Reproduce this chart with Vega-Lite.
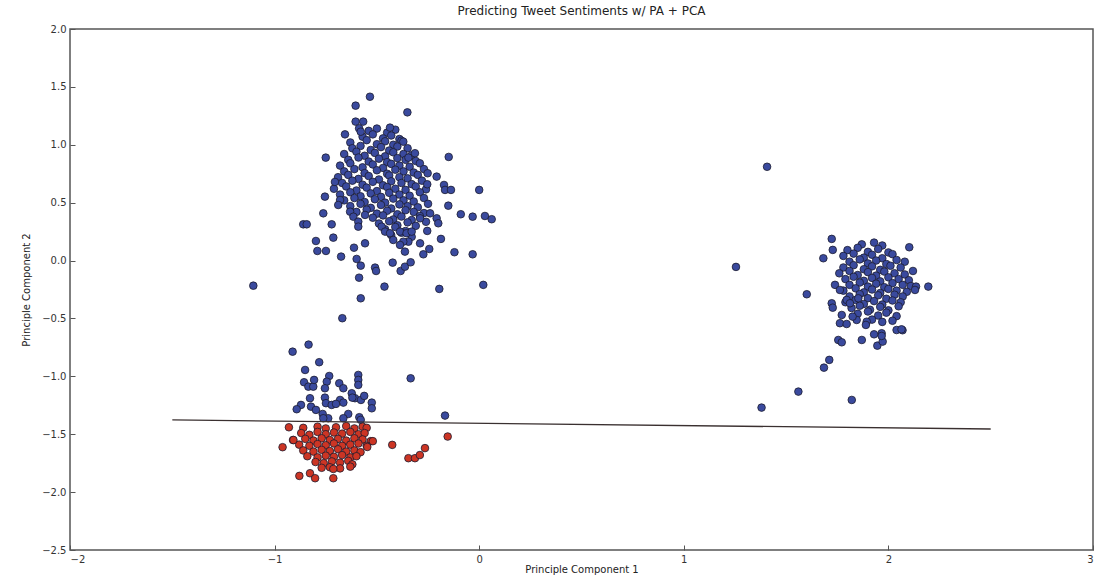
{
  "$schema": "https://vega.github.io/schema/vega-lite/v6.json",
  "width": 1023,
  "height": 521,
  "autosize": "none",
  "padding": {"left": 70, "top": 29, "right": 11, "bottom": 25},
  "background": "white",
  "title": {"text": "Predicting Tweet Sentiments w/ PA + PCA", "fontSize": 12, "fontWeight": "normal", "font": "DejaVu Sans", "color": "#222", "offset": 6},
  "config": {
    "view": {"stroke": "#555", "strokeWidth": 1.5},
    "axis": {"grid": false, "domain": false, "labelFont": "DejaVu Sans", "labelFontSize": 10, "labelColor": "#333", "tickColor": "#555", "tickSize": -5, "titleFont": "DejaVu Sans", "titleFontSize": 10, "titleFontWeight": "normal", "titleColor": "#222"}
  },
  "datasets": {
    "pts": [
      {"x":-0.54,"y":1.12,"c":"pos"},{"x":-0.50,"y":1.14,"c":"pos"},{"x":-0.45,"y":1.105,"c":"pos"},{"x":-0.41,"y":1.13,"c":"pos"},
      {"x":-0.57,"y":1.07,"c":"pos"},{"x":-0.52,"y":1.09,"c":"pos"},{"x":-0.47,"y":1.055,"c":"pos"},{"x":-0.43,"y":1.08,"c":"pos"},{"x":-0.39,"y":1.05,"c":"pos"},
      {"x":-0.63,"y":1.02,"c":"pos"},{"x":-0.55,"y":1.04,"c":"pos"},{"x":-0.50,"y":1.005,"c":"pos"},{"x":-0.46,"y":1.03,"c":"pos"},{"x":-0.42,"y":1.0,"c":"pos"},{"x":-0.38,"y":1.035,"c":"pos"},
      {"x":-0.62,"y":0.97,"c":"pos"},{"x":-0.58,"y":0.99,"c":"pos"},{"x":-0.53,"y":0.955,"c":"pos"},{"x":-0.48,"y":0.98,"c":"pos"},{"x":-0.44,"y":0.95,"c":"pos"},{"x":-0.40,"y":0.985,"c":"pos"},{"x":-0.35,"y":0.97,"c":"pos"},
      {"x":-0.66,"y":0.92,"c":"pos"},{"x":-0.60,"y":0.94,"c":"pos"},{"x":-0.56,"y":0.905,"c":"pos"},{"x":-0.51,"y":0.93,"c":"pos"},{"x":-0.46,"y":0.90,"c":"pos"},{"x":-0.42,"y":0.935,"c":"pos"},{"x":-0.37,"y":0.92,"c":"pos"},{"x":-0.33,"y":0.91,"c":"pos"},
      {"x":-0.64,"y":0.87,"c":"pos"},{"x":-0.59,"y":0.89,"c":"pos"},{"x":-0.54,"y":0.855,"c":"pos"},{"x":-0.49,"y":0.88,"c":"pos"},{"x":-0.45,"y":0.85,"c":"pos"},{"x":-0.40,"y":0.885,"c":"pos"},{"x":-0.36,"y":0.87,"c":"pos"},{"x":-0.31,"y":0.86,"c":"pos"},
      {"x":-0.68,"y":0.82,"c":"pos"},{"x":-0.63,"y":0.84,"c":"pos"},{"x":-0.57,"y":0.805,"c":"pos"},{"x":-0.52,"y":0.83,"c":"pos"},{"x":-0.47,"y":0.80,"c":"pos"},{"x":-0.43,"y":0.835,"c":"pos"},{"x":-0.39,"y":0.82,"c":"pos"},{"x":-0.34,"y":0.81,"c":"pos"},{"x":-0.29,"y":0.84,"c":"pos"},
      {"x":-0.66,"y":0.77,"c":"pos"},{"x":-0.61,"y":0.79,"c":"pos"},{"x":-0.56,"y":0.755,"c":"pos"},{"x":-0.50,"y":0.78,"c":"pos"},{"x":-0.45,"y":0.75,"c":"pos"},{"x":-0.41,"y":0.785,"c":"pos"},{"x":-0.37,"y":0.77,"c":"pos"},{"x":-0.32,"y":0.76,"c":"pos"},{"x":-0.27,"y":0.79,"c":"pos"},
      {"x":-0.69,"y":0.72,"c":"pos"},{"x":-0.64,"y":0.74,"c":"pos"},{"x":-0.59,"y":0.705,"c":"pos"},{"x":-0.54,"y":0.73,"c":"pos"},{"x":-0.49,"y":0.70,"c":"pos"},{"x":-0.44,"y":0.735,"c":"pos"},{"x":-0.39,"y":0.72,"c":"pos"},{"x":-0.35,"y":0.71,"c":"pos"},{"x":-0.30,"y":0.74,"c":"pos"},
      {"x":-0.67,"y":0.67,"c":"pos"},{"x":-0.62,"y":0.69,"c":"pos"},{"x":-0.57,"y":0.655,"c":"pos"},{"x":-0.52,"y":0.68,"c":"pos"},{"x":-0.47,"y":0.65,"c":"pos"},{"x":-0.43,"y":0.685,"c":"pos"},{"x":-0.38,"y":0.67,"c":"pos"},{"x":-0.33,"y":0.66,"c":"pos"},{"x":-0.28,"y":0.69,"c":"pos"},
      {"x":-0.71,"y":0.62,"c":"pos"},{"x":-0.65,"y":0.64,"c":"pos"},{"x":-0.60,"y":0.605,"c":"pos"},{"x":-0.55,"y":0.63,"c":"pos"},{"x":-0.50,"y":0.60,"c":"pos"},{"x":-0.45,"y":0.635,"c":"pos"},{"x":-0.41,"y":0.62,"c":"pos"},{"x":-0.36,"y":0.61,"c":"pos"},{"x":-0.31,"y":0.64,"c":"pos"},{"x":-0.26,"y":0.615,"c":"pos"},
      {"x":-0.68,"y":0.57,"c":"pos"},{"x":-0.63,"y":0.59,"c":"pos"},{"x":-0.58,"y":0.555,"c":"pos"},{"x":-0.53,"y":0.58,"c":"pos"},{"x":-0.48,"y":0.55,"c":"pos"},{"x":-0.44,"y":0.585,"c":"pos"},{"x":-0.39,"y":0.57,"c":"pos"},{"x":-0.34,"y":0.56,"c":"pos"},{"x":-0.29,"y":0.59,"c":"pos"},
      {"x":-0.66,"y":0.52,"c":"pos"},{"x":-0.61,"y":0.54,"c":"pos"},{"x":-0.56,"y":0.505,"c":"pos"},{"x":-0.51,"y":0.53,"c":"pos"},{"x":-0.46,"y":0.50,"c":"pos"},{"x":-0.42,"y":0.535,"c":"pos"},{"x":-0.37,"y":0.52,"c":"pos"},{"x":-0.32,"y":0.51,"c":"pos"},{"x":-0.27,"y":0.54,"c":"pos"},
      {"x":-0.63,"y":0.47,"c":"pos"},{"x":-0.58,"y":0.49,"c":"pos"},{"x":-0.53,"y":0.455,"c":"pos"},{"x":-0.48,"y":0.48,"c":"pos"},{"x":-0.43,"y":0.45,"c":"pos"},{"x":-0.39,"y":0.485,"c":"pos"},{"x":-0.35,"y":0.47,"c":"pos"},{"x":-0.30,"y":0.46,"c":"pos"},{"x":-0.25,"y":0.49,"c":"pos"},
      {"x":-0.60,"y":0.42,"c":"pos"},{"x":-0.55,"y":0.44,"c":"pos"},{"x":-0.50,"y":0.405,"c":"pos"},{"x":-0.45,"y":0.43,"c":"pos"},{"x":-0.40,"y":0.40,"c":"pos"},{"x":-0.36,"y":0.435,"c":"pos"},{"x":-0.32,"y":0.42,"c":"pos"},{"x":-0.27,"y":0.41,"c":"pos"},
      {"x":-0.52,"y":0.37,"c":"pos"},{"x":-0.47,"y":0.39,"c":"pos"},{"x":-0.42,"y":0.355,"c":"pos"},{"x":-0.38,"y":0.38,"c":"pos"},{"x":-0.33,"y":0.35,"c":"pos"},{"x":-0.29,"y":0.385,"c":"pos"},
      {"x":-0.49,"y":0.32,"c":"pos"},{"x":-0.44,"y":0.34,"c":"pos"},{"x":-0.40,"y":0.305,"c":"pos"},{"x":-0.35,"y":0.33,"c":"pos"},{"x":-0.31,"y":0.30,"c":"pos"},{"x":-0.26,"y":0.335,"c":"pos"},
      {"x":-0.46,"y":0.27,"c":"pos"},{"x":-0.41,"y":0.29,"c":"pos"},{"x":-0.36,"y":0.255,"c":"pos"},
      {"x":-0.43,"y":0.22,"c":"pos"},{"x":-0.38,"y":0.24,"c":"pos"},{"x":-0.33,"y":0.205,"c":"pos"},
      {"x":-0.534,"y":1.415,"c":"pos"},{"x":-0.604,"y":1.338,"c":"pos"},{"x":-0.351,"y":1.28,"c":"pos"},{"x":-0.604,"y":1.2,"c":"pos"},{"x":-0.567,"y":1.2,"c":"pos"},
      {"x":-0.587,"y":1.142,"c":"pos"},{"x":-0.579,"y":1.113,"c":"pos"},{"x":-0.656,"y":1.09,"c":"pos"},{"x":-0.436,"y":1.148,"c":"pos"},{"x":-0.75,"y":0.889,"c":"pos"},
      {"x":-0.149,"y":0.895,"c":"pos"},{"x":0.0,"y":0.61,"c":"pos"},{"x":-0.705,"y":0.679,"c":"pos"},{"x":-0.754,"y":0.552,"c":"pos"},{"x":-0.68,"y":0.523,"c":"pos"},
      {"x":-0.689,"y":0.48,"c":"pos"},{"x":-0.762,"y":0.408,"c":"pos"},{"x":-0.86,"y":0.313,"c":"pos"},{"x":-0.843,"y":0.313,"c":"pos"},{"x":-0.721,"y":0.313,"c":"pos"},
      {"x":-0.09,"y":0.4,"c":"pos"},{"x":-0.032,"y":0.379,"c":"pos"},{"x":0.028,"y":0.385,"c":"pos"},{"x":0.061,"y":0.357,"c":"pos"},{"x":-0.151,"y":0.474,"c":"pos"},
      {"x":-0.713,"y":0.198,"c":"pos"},{"x":-0.798,"y":0.169,"c":"pos"},{"x":-0.791,"y":0.083,"c":"pos"},{"x":-0.749,"y":0.083,"c":"pos"},{"x":-0.675,"y":0.034,"c":"pos"},
      {"x":-0.612,"y":0.111,"c":"pos"},{"x":-0.558,"y":0.149,"c":"pos"},{"x":-0.599,"y":0.014,"c":"pos"},{"x":-0.579,"y":-0.044,"c":"pos"},{"x":-0.509,"y":-0.061,"c":"pos"},
      {"x":-0.504,"y":-0.09,"c":"pos"},{"x":-0.587,"y":-0.148,"c":"pos"},{"x":-0.463,"y":-0.225,"c":"pos"},{"x":-0.579,"y":-0.326,"c":"pos"},{"x":-0.669,"y":-0.498,"c":"pos"},
      {"x":-0.195,"y":-0.245,"c":"pos"},{"x":0.02,"y":-0.21,"c":"pos"},{"x":-0.121,"y":0.072,"c":"pos"},{"x":-0.032,"y":0.054,"c":"pos"},{"x":-0.187,"y":0.187,"c":"pos"},
      {"x":-0.244,"y":0.1,"c":"pos"},{"x":-0.273,"y":0.054,"c":"pos"},{"x":-0.363,"y":0.077,"c":"pos"},{"x":-0.423,"y":-0.018,"c":"pos"},{"x":-0.384,"y":-0.09,"c":"pos"},
      {"x":-0.363,"y":-0.053,"c":"pos"},{"x":-0.335,"y":-0.015,"c":"pos"},{"x":-0.254,"y":0.256,"c":"pos"},{"x":-0.289,"y":0.149,"c":"pos"},{"x":-0.208,"y":0.365,"c":"pos"},
      {"x":-0.2,"y":0.322,"c":"pos"},{"x":-0.254,"y":0.659,"c":"pos"},{"x":-0.208,"y":0.725,"c":"pos"},{"x":-0.172,"y":0.653,"c":"pos"},{"x":-0.167,"y":0.61,"c":"pos"},
      {"x":-0.138,"y":0.61,"c":"pos"},{"x":-0.252,"y":0.754,"c":"pos"},{"x":-0.371,"y":1.027,"c":"pos"},{"x":-0.314,"y":0.927,"c":"pos"},{"x":-0.346,"y":0.889,"c":"pos"},
      {"x":-0.631,"y":0.422,"c":"pos"},{"x":-0.615,"y":0.379,"c":"pos"},{"x":-0.591,"y":0.336,"c":"pos"},{"x":-0.591,"y":0.293,"c":"pos"},{"x":-0.558,"y":0.394,"c":"pos"},
      {"x":-0.477,"y":0.293,"c":"pos"},{"x":-0.46,"y":0.25,"c":"pos"},{"x":-0.436,"y":0.236,"c":"pos"},{"x":-0.42,"y":0.178,"c":"pos"},{"x":-0.387,"y":0.25,"c":"pos"},
      {"x":-0.355,"y":0.236,"c":"pos"},{"x":-0.33,"y":0.25,"c":"pos"},{"x":-0.346,"y":0.163,"c":"pos"},{"x":-0.371,"y":0.163,"c":"pos"},{"x":-0.387,"y":0.135,"c":"pos"},
      {"x":-0.289,"y":0.365,"c":"pos"},{"x":-0.24,"y":0.408,"c":"pos"},
      {"x":-1.104,"y":-0.217,"c":"pos"},{"x":1.255,"y":-0.055,"c":"pos"},{"x":1.407,"y":0.81,"c":"pos"},
      {"x":1.87,"y":0.14,"c":"pos"},{"x":1.93,"y":0.155,"c":"pos"},{"x":1.97,"y":0.13,"c":"pos"},
      {"x":1.80,"y":0.09,"c":"pos"},{"x":1.85,"y":0.11,"c":"pos"},{"x":1.90,"y":0.075,"c":"pos"},{"x":1.95,"y":0.10,"c":"pos"},{"x":2.00,"y":0.07,"c":"pos"},
      {"x":1.78,"y":0.04,"c":"pos"},{"x":1.83,"y":0.06,"c":"pos"},{"x":1.88,"y":0.025,"c":"pos"},{"x":1.92,"y":0.05,"c":"pos"},{"x":1.97,"y":0.02,"c":"pos"},{"x":2.02,"y":0.055,"c":"pos"},
      {"x":1.81,"y":-0.01,"c":"pos"},{"x":1.86,"y":0.01,"c":"pos"},{"x":1.90,"y":-0.025,"c":"pos"},{"x":1.94,"y":0.0,"c":"pos"},{"x":1.99,"y":-0.03,"c":"pos"},{"x":2.04,"y":0.005,"c":"pos"},{"x":2.08,"y":-0.01,"c":"pos"},
      {"x":1.78,"y":-0.06,"c":"pos"},{"x":1.83,"y":-0.04,"c":"pos"},{"x":1.88,"y":-0.075,"c":"pos"},{"x":1.92,"y":-0.05,"c":"pos"},{"x":1.96,"y":-0.08,"c":"pos"},{"x":2.01,"y":-0.045,"c":"pos"},{"x":2.06,"y":-0.06,"c":"pos"},
      {"x":1.76,"y":-0.11,"c":"pos"},{"x":1.81,"y":-0.09,"c":"pos"},{"x":1.85,"y":-0.125,"c":"pos"},{"x":1.90,"y":-0.10,"c":"pos"},{"x":1.94,"y":-0.13,"c":"pos"},{"x":1.98,"y":-0.095,"c":"pos"},{"x":2.03,"y":-0.11,"c":"pos"},{"x":2.08,"y":-0.12,"c":"pos"},{"x":2.12,"y":-0.09,"c":"pos"},
      {"x":1.79,"y":-0.16,"c":"pos"},{"x":1.83,"y":-0.14,"c":"pos"},{"x":1.88,"y":-0.175,"c":"pos"},{"x":1.92,"y":-0.15,"c":"pos"},{"x":1.96,"y":-0.18,"c":"pos"},{"x":2.00,"y":-0.145,"c":"pos"},{"x":2.05,"y":-0.16,"c":"pos"},{"x":2.10,"y":-0.17,"c":"pos"},
      {"x":1.81,"y":-0.21,"c":"pos"},{"x":1.86,"y":-0.19,"c":"pos"},{"x":1.90,"y":-0.225,"c":"pos"},{"x":1.94,"y":-0.20,"c":"pos"},{"x":1.98,"y":-0.23,"c":"pos"},{"x":2.02,"y":-0.195,"c":"pos"},{"x":2.07,"y":-0.21,"c":"pos"},{"x":2.11,"y":-0.22,"c":"pos"},
      {"x":1.78,"y":-0.26,"c":"pos"},{"x":1.84,"y":-0.24,"c":"pos"},{"x":1.88,"y":-0.275,"c":"pos"},{"x":1.92,"y":-0.25,"c":"pos"},{"x":1.96,"y":-0.28,"c":"pos"},{"x":2.00,"y":-0.245,"c":"pos"},{"x":2.04,"y":-0.26,"c":"pos"},{"x":2.09,"y":-0.27,"c":"pos"},
      {"x":1.81,"y":-0.31,"c":"pos"},{"x":1.86,"y":-0.29,"c":"pos"},{"x":1.90,"y":-0.325,"c":"pos"},{"x":1.95,"y":-0.30,"c":"pos"},{"x":1.99,"y":-0.33,"c":"pos"},{"x":2.03,"y":-0.295,"c":"pos"},{"x":2.07,"y":-0.31,"c":"pos"},
      {"x":1.79,"y":-0.36,"c":"pos"},{"x":1.84,"y":-0.34,"c":"pos"},{"x":1.88,"y":-0.375,"c":"pos"},{"x":1.93,"y":-0.35,"c":"pos"},{"x":1.97,"y":-0.38,"c":"pos"},{"x":2.02,"y":-0.345,"c":"pos"},{"x":2.06,"y":-0.36,"c":"pos"},
      {"x":1.82,"y":-0.41,"c":"pos"},{"x":1.86,"y":-0.39,"c":"pos"},{"x":1.91,"y":-0.425,"c":"pos"},{"x":1.96,"y":-0.40,"c":"pos"},{"x":2.00,"y":-0.43,"c":"pos"},{"x":2.05,"y":-0.395,"c":"pos"},
      {"x":1.85,"y":-0.46,"c":"pos"},{"x":1.90,"y":-0.44,"c":"pos"},{"x":1.95,"y":-0.475,"c":"pos"},{"x":1.99,"y":-0.45,"c":"pos"},{"x":2.04,"y":-0.48,"c":"pos"},
      {"x":1.92,"y":-0.51,"c":"pos"},{"x":1.97,"y":-0.53,"c":"pos"},{"x":2.02,"y":-0.52,"c":"pos"},
      {"x":1.723,"y":0.187,"c":"pos"},{"x":1.728,"y":0.092,"c":"pos"},{"x":1.682,"y":0.02,"c":"pos"},{"x":1.601,"y":-0.291,"c":"pos"},{"x":2.102,"y":0.115,"c":"pos"},
      {"x":2.195,"y":-0.225,"c":"pos"},{"x":2.135,"y":-0.225,"c":"pos"},{"x":2.13,"y":-0.254,"c":"pos"},{"x":1.723,"y":-0.369,"c":"pos"},{"x":1.728,"y":-0.407,"c":"pos"},
      {"x":1.755,"y":-0.686,"c":"pos"},{"x":1.772,"y":-0.706,"c":"pos"},{"x":1.87,"y":-0.686,"c":"pos"},{"x":1.946,"y":-0.735,"c":"pos"},{"x":1.972,"y":-0.70,"c":"pos"},
      {"x":1.967,"y":-0.628,"c":"pos"},{"x":1.93,"y":-0.637,"c":"pos"},{"x":2.069,"y":-0.602,"c":"pos"},{"x":1.711,"y":-0.858,"c":"pos"},{"x":1.685,"y":-0.925,"c":"pos"},
      {"x":1.56,"y":-1.132,"c":"pos"},{"x":1.38,"y":-1.27,"c":"pos"},{"x":1.821,"y":-1.204,"c":"pos"},{"x":1.763,"y":-0.541,"c":"pos"},{"x":1.796,"y":-0.548,"c":"pos"},
      {"x":1.772,"y":-0.47,"c":"pos"},{"x":1.845,"y":-0.513,"c":"pos"},{"x":1.894,"y":-0.528,"c":"pos"},{"x":1.89,"y":-0.556,"c":"pos"},{"x":1.739,"y":-0.21,"c":"pos"},
      {"x":1.763,"y":-0.254,"c":"pos"},{"x":1.825,"y":-0.484,"c":"pos"},{"x":2.04,"y":-0.6,"c":"pos"},{"x":2.064,"y":-0.594,"c":"pos"},{"x":1.967,"y":-0.651,"c":"pos"},
      {"x":1.796,"y":-0.34,"c":"pos"},{"x":1.812,"y":-0.369,"c":"pos"},{"x":1.853,"y":-0.326,"c":"pos"},
      {"x":-0.834,"y":-0.726,"c":"pos"},{"x":-0.912,"y":-0.787,"c":"pos"},{"x":-0.782,"y":-0.878,"c":"pos"},{"x":-0.851,"y":-0.945,"c":"pos"},
      {"x":-0.856,"y":-1.051,"c":"pos"},{"x":-0.835,"y":-1.089,"c":"pos"},{"x":-0.811,"y":-1.089,"c":"pos"},{"x":-0.807,"y":-1.031,"c":"pos"},
      {"x":-0.733,"y":-0.997,"c":"pos"},{"x":-0.745,"y":-1.046,"c":"pos"},{"x":-0.754,"y":-1.103,"c":"pos"},{"x":-0.684,"y":-1.06,"c":"pos"},{"x":-0.664,"y":-1.103,"c":"pos"},
      {"x":-0.591,"y":-0.988,"c":"pos"},{"x":-0.591,"y":-1.031,"c":"pos"},{"x":-0.591,"y":-1.074,"c":"pos"},{"x":-0.827,"y":-1.189,"c":"pos"},{"x":-0.754,"y":-1.184,"c":"pos"},
      {"x":-0.749,"y":-1.232,"c":"pos"},{"x":-0.623,"y":-1.146,"c":"pos"},{"x":-0.607,"y":-1.189,"c":"pos"},{"x":-0.578,"y":-1.204,"c":"pos"},{"x":-0.562,"y":-1.169,"c":"pos"},
      {"x":-0.62,"y":-1.184,"c":"pos"},{"x":-0.68,"y":-1.204,"c":"pos"},{"x":-0.664,"y":-1.227,"c":"pos"},{"x":-0.721,"y":-1.247,"c":"pos"},{"x":-0.7,"y":-1.238,"c":"pos"},
      {"x":-0.871,"y":-1.247,"c":"pos"},{"x":-0.892,"y":-1.284,"c":"pos"},{"x":-0.822,"y":-1.262,"c":"pos"},{"x":-0.798,"y":-1.29,"c":"pos"},{"x":-0.525,"y":-1.227,"c":"pos"},
      {"x":-0.525,"y":-1.276,"c":"pos"},{"x":-0.765,"y":-1.325,"c":"pos"},{"x":-0.738,"y":-1.362,"c":"pos"},{"x":-0.762,"y":-1.362,"c":"pos"},{"x":-0.64,"y":-1.325,"c":"pos"},
      {"x":-0.664,"y":-1.362,"c":"pos"},{"x":-0.586,"y":-1.353,"c":"pos"},{"x":-0.579,"y":-1.376,"c":"pos"},{"x":-0.335,"y":-1.017,"c":"pos"},{"x":-0.167,"y":-1.339,"c":"pos"},
      {"x":-0.93,"y":-1.44,"c":"neg"},{"x":-0.86,"y":-1.445,"c":"neg"},{"x":-0.79,"y":-1.435,"c":"neg"},{"x":-0.75,"y":-1.45,"c":"neg"},{"x":-0.70,"y":-1.44,"c":"neg"},{"x":-0.65,"y":-1.43,"c":"neg"},{"x":-0.61,"y":-1.45,"c":"neg"},{"x":-0.57,"y":-1.435,"c":"neg"},{"x":-0.55,"y":-1.445,"c":"neg"},
      {"x":-0.87,"y":-1.49,"c":"neg"},{"x":-0.83,"y":-1.505,"c":"neg"},{"x":-0.79,"y":-1.48,"c":"neg"},{"x":-0.75,"y":-1.50,"c":"neg"},{"x":-0.71,"y":-1.485,"c":"neg"},{"x":-0.67,"y":-1.495,"c":"neg"},{"x":-0.63,"y":-1.48,"c":"neg"},{"x":-0.59,"y":-1.50,"c":"neg"},{"x":-0.56,"y":-1.49,"c":"neg"},
      {"x":-0.91,"y":-1.55,"c":"neg"},{"x":-0.85,"y":-1.54,"c":"neg"},{"x":-0.81,"y":-1.555,"c":"neg"},{"x":-0.77,"y":-1.535,"c":"neg"},{"x":-0.73,"y":-1.55,"c":"neg"},{"x":-0.69,"y":-1.54,"c":"neg"},{"x":-0.65,"y":-1.555,"c":"neg"},{"x":-0.61,"y":-1.535,"c":"neg"},{"x":-0.57,"y":-1.545,"c":"neg"},{"x":-0.53,"y":-1.56,"c":"neg"},
      {"x":-0.88,"y":-1.59,"c":"neg"},{"x":-0.83,"y":-1.60,"c":"neg"},{"x":-0.79,"y":-1.585,"c":"neg"},{"x":-0.75,"y":-1.595,"c":"neg"},{"x":-0.71,"y":-1.58,"c":"neg"},{"x":-0.67,"y":-1.60,"c":"neg"},{"x":-0.63,"y":-1.59,"c":"neg"},{"x":-0.59,"y":-1.58,"c":"neg"},{"x":-0.55,"y":-1.60,"c":"neg"},
      {"x":-0.86,"y":-1.64,"c":"neg"},{"x":-0.81,"y":-1.65,"c":"neg"},{"x":-0.77,"y":-1.635,"c":"neg"},{"x":-0.73,"y":-1.645,"c":"neg"},{"x":-0.69,"y":-1.63,"c":"neg"},{"x":-0.65,"y":-1.65,"c":"neg"},{"x":-0.61,"y":-1.64,"c":"neg"},{"x":-0.58,"y":-1.655,"c":"neg"},
      {"x":-0.84,"y":-1.69,"c":"neg"},{"x":-0.79,"y":-1.70,"c":"neg"},{"x":-0.75,"y":-1.685,"c":"neg"},{"x":-0.71,"y":-1.695,"c":"neg"},{"x":-0.67,"y":-1.68,"c":"neg"},{"x":-0.63,"y":-1.70,"c":"neg"},{"x":-0.60,"y":-1.69,"c":"neg"},
      {"x":-0.80,"y":-1.74,"c":"neg"},{"x":-0.76,"y":-1.75,"c":"neg"},{"x":-0.72,"y":-1.735,"c":"neg"},{"x":-0.68,"y":-1.745,"c":"neg"},{"x":-0.64,"y":-1.73,"c":"neg"},{"x":-0.62,"y":-1.76,"c":"neg"},
      {"x":-0.77,"y":-1.79,"c":"neg"},{"x":-0.73,"y":-1.785,"c":"neg"},{"x":-0.68,"y":-1.795,"c":"neg"},{"x":-0.63,"y":-1.78,"c":"neg"},
      {"x":-0.961,"y":-1.612,"c":"neg"},{"x":-0.908,"y":-1.55,"c":"neg"},{"x":-0.879,"y":-1.86,"c":"neg"},{"x":-0.827,"y":-1.837,"c":"neg"},{"x":-0.802,"y":-1.88,"c":"neg"},
      {"x":-0.713,"y":-1.88,"c":"neg"},{"x":-0.713,"y":-1.80,"c":"neg"},{"x":-0.425,"y":-1.592,"c":"neg"},{"x":-0.346,"y":-1.707,"c":"neg"},{"x":-0.314,"y":-1.707,"c":"neg"},
      {"x":-0.29,"y":-1.68,"c":"neg"},{"x":-0.265,"y":-1.62,"c":"neg"},{"x":-0.154,"y":-1.52,"c":"neg"},{"x":-0.52,"y":-1.56,"c":"neg"},{"x":-0.547,"y":-1.61,"c":"neg"}
    ],
    "boundary": [
      {"x": -1.5, "y": -1.376},
      {"x": 2.5, "y": -1.455}
    ]
  },
  "encoding": {
    "x": {"field": "x", "type": "quantitative", "scale": {"domain": [-2, 3], "nice": false, "zero": false}, "axis": {"title": "Principle Component 1", "values": [-2, -1, 0, 1, 2, 3], "format": "d", "labelPadding": 9, "titlePadding": 0}},
    "y": {"field": "y", "type": "quantitative", "scale": {"domain": [-2.5, 2], "nice": false, "zero": false}, "axis": {"title": "Principle Component 2", "values": [-2.5, -2, -1.5, -1, -0.5, 0, 0.5, 1, 1.5, 2], "format": ".1f", "labelPadding": 9, "titlePadding": 10}}
  },
  "layer": [
    {
      "data": {"name": "pts"},
      "mark": {"type": "point", "filled": true, "shape": "circle", "size": 58, "stroke": "#1c1c2e", "strokeWidth": 0.8, "opacity": 1},
      "encoding": {
        "color": {"field": "c", "type": "nominal", "scale": {"domain": ["pos", "neg"], "range": ["#3a4a9e", "#cc3524"]}, "legend": null}
      }
    },
    {
      "data": {"name": "boundary"},
      "mark": {"type": "line", "color": "#3a3030", "strokeWidth": 1.3},
      "encoding": {}
    }
  ]
}
